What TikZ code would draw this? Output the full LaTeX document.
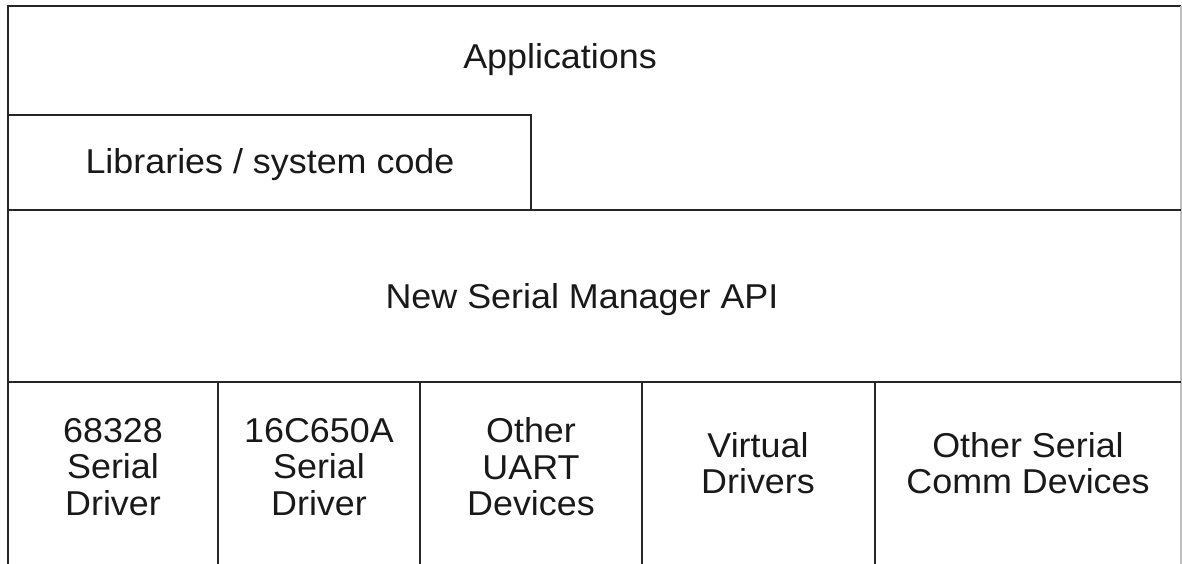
\documentclass[tikz,border=0pt]{standalone}
\usepackage{fontspec}
\setmainfont{Liberation Sans}[FakeStretch=1.04]
\begin{document}
\begin{tikzpicture}[x=1pt,y=-1pt,
  ln/.style={line width=1.8pt,black!85},
  lbl/.style={font=\fontsize{34.5}{36.5}\selectfont,align=center,inner sep=0pt,text=black!90}]
\useasboundingbox (0,0) rectangle (1182,564);
% outer frame
\draw[ln] (8,564) -- (8,6) -- (1181,6);
\draw[line width=1.5pt,black!25] (1181,6) -- (1181,564);
% libraries box
\draw[ln] (8,115) -- (531,115) -- (531,210);
% layer separators
\draw[ln] (8,210) -- (1181,210);
\draw[ln] (8,382) -- (1181,382);
% driver columns
\foreach \x in {218,420,642,875} \draw[ln] (\x,382) -- (\x,564);
% labels
\node[lbl] (apps) at (560,60) {Applications};
\node[lbl] (libs) at (270,165) {Libraries / system code};
\node[lbl] (api) at (582,300) {New Serial Manager API};
\node[lbl] (d1) at (113,467) {68328\\Serial\\Driver};
\node[lbl] (d2) at (319,467) {16C650A\\Serial\\Driver};
\node[lbl] (d3) at (531,467) {Other\\UART\\Devices};
\node[lbl] (d4) at (758,463) {Virtual\\Drivers};
\node[lbl] (d5) at (1028,463) {Other Serial\\Comm Devices};
\end{tikzpicture}
\end{document}
